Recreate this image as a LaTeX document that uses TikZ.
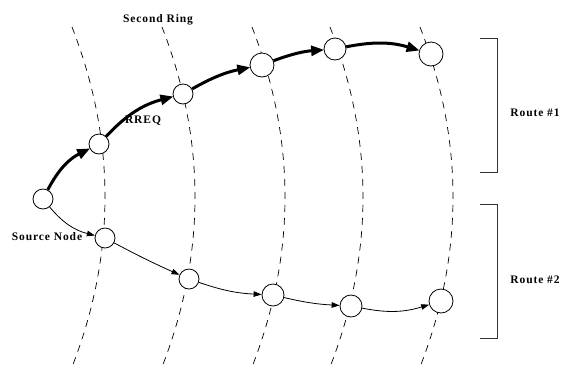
\documentclass[tikz,border=0pt]{standalone}
\usepackage{fontspec}
\setmainfont{Liberation Serif}[LetterSpace=8]
\usetikzlibrary{arrows.meta}
\begin{document}
\begin{tikzpicture}[x=1bp,y=-1bp,
  ring/.style={draw=black, line width=0.7bp, dash pattern=on 7bp off 6bp},
  nd/.style={circle, draw=black, fill=white, line width=0.8bp, inner sep=0pt},
  thickarrow/.style={line width=3bp, -{Triangle[length=13bp,width=10bp]}, shorten >=-0.5bp},
  thinarrow/.style={line width=0.8bp, -{Triangle[length=8bp,width=5.5bp]}},
  lbl/.style={font=\fontsize{11.5bp}{13bp}\selectfont\bfseries, inner sep=0pt},
  brk/.style={draw=black!80, line width=1bp}]
\useasboundingbox (0,0) rectangle (568,370);
% rings
\foreach \x in {72,162,252,330,420}{
  \draw[ring] (\x,27) .. controls (\x+44,140) and (\x+44,254) .. (\x,367);
}
% nodes
\node[nd, minimum size=20bp] (s) at (43,199) {};
\node[nd, minimum size=20bp] (a1) at (99,144) {};
\node[nd, minimum size=20bp] (a2) at (183,94) {};
\node[nd, minimum size=24bp] (a3) at (262,65) {};
\node[nd, minimum size=22bp] (a4) at (335,49) {};
\node[nd, minimum size=24bp] (a5) at (431,54) {};
\node[nd, minimum size=20bp] (b1) at (105,238) {};
\node[nd, minimum size=20bp] (b2) at (189,279) {};
\node[nd, minimum size=22bp] (b3) at (273,295) {};
\node[nd, minimum size=22bp] (b4) at (351,306) {};
\node[nd, minimum size=24bp] (b5) at (441,301) {};
% route 1
\draw[thickarrow] (s) to[bend left=18] (a1);
\draw[thickarrow] (a1) to[bend left=16] (a2);
\draw[thickarrow] (a2) to[bend left=9] (a3);
\draw[thickarrow] (a3) to[bend left=8] (a4);
\draw[thickarrow] (a4) to[bend left=14] (a5);
% route 2
\draw[thinarrow] (s) to[bend right=18] (b1);
\draw[thinarrow] (b1) to[bend right=2] (b2);
\draw[thinarrow] (b2) to[bend right=8] (b3);
\draw[thinarrow] (b3) to[bend right=5] (b4);
\draw[thinarrow] (b4) to[bend right=14] (b5);
% brackets
\coordinate (r1a) at (480,38); \coordinate (r1b) at (497,38);
\coordinate (r1c) at (497,172); \coordinate (r1d) at (480,172);
\draw[brk] (r1a) -- (r1b) -- (r1c) -- (r1d);
\coordinate (r2a) at (480,204); \coordinate (r2b) at (497,204);
\coordinate (r2c) at (497,338); \coordinate (r2d) at (480,338);
\draw[brk] (r2a) -- (r2b) -- (r2c) -- (r2d);
% labels
\node[lbl, anchor=base] (t1) at (158,22) {Second Ring};
\node[lbl, anchor=base] (t2) at (143,123) {RREQ};
\node[lbl, anchor=base] (t3) at (47,240) {Source Node};
\node[lbl, anchor=base] (t4) at (535,116) {Route \#1};
\node[lbl, anchor=base] (t5) at (535,283) {Route \#2};
\end{tikzpicture}
\end{document}
